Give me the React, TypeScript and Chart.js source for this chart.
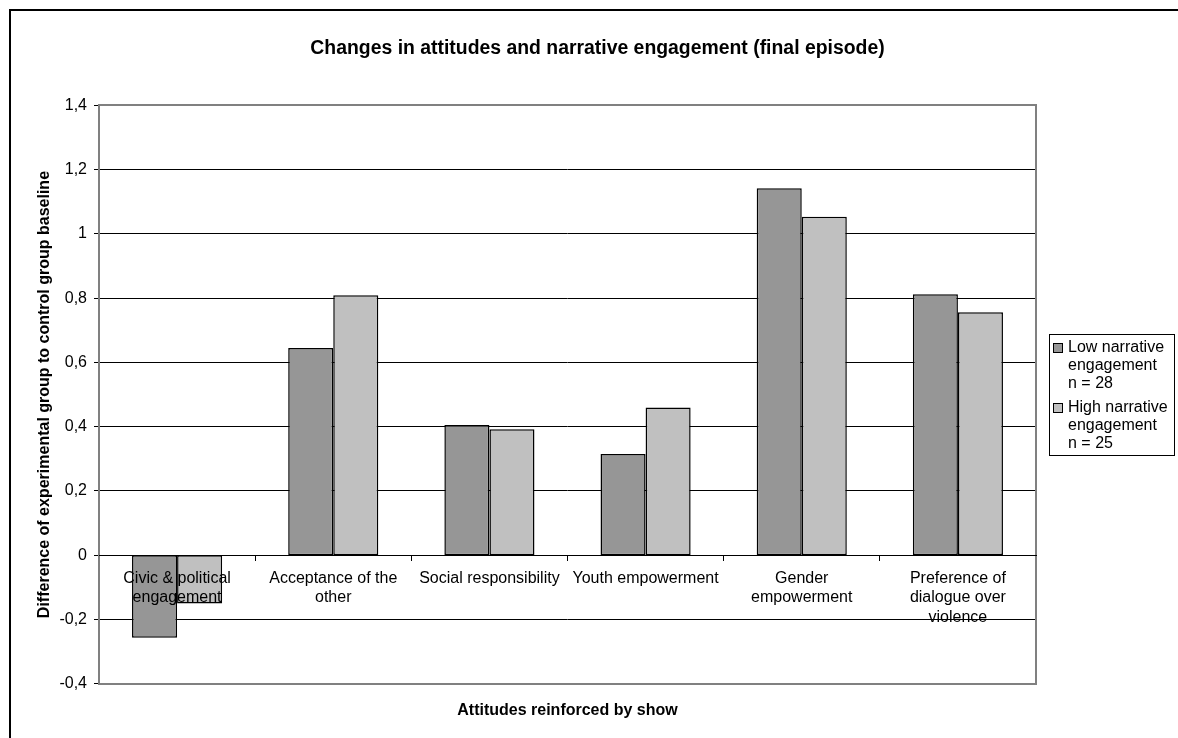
import React, { useEffect, useRef } from "react";
import { Chart, registerables } from "chart.js";

Chart.register(...registerables);

// Category labels (multi-line where the axis wraps them)
const categories: (string | string[])[] = [
  ["Civic & political", "engagement"],
  ["Acceptance of the", "other"],
  "Social responsibility",
  "Youth empowerment",
  ["Gender", "empowerment"],
  ["Preference of", "dialogue over", "violence"],
];

// Difference of experimental group to control group baseline
const lowEngagement = [-0.257, 0.645, 0.405, 0.315, 1.142, 0.812];
const highEngagement = [-0.15, 0.809, 0.392, 0.46, 1.053, 0.756];

const lowLegend = ["Low narrative", "engagement", "n = 28"];
const highLegend = ["High narrative", "engagement", "n = 25"];

const yMin = -0.4;
const yMax = 1.4;
const yStep = 0.2;

const chartTitle = "Changes in attitudes and narrative engagement (final episode)";
const xTitle = "Attitudes reinforced by show";
const yTitle = "Difference of experimental group to control group baseline";

const FONT = "'Liberation Sans', Arial, Helvetica, sans-serif";
const DARK = "#969696";
const LIGHT = "#C0C0C0";

const legendLines = [lowLegend, highLegend];

// Grey frame around the plot area
const plotFrame = {
  id: "plotFrame",
  beforeDatasetsDraw(chart: any) {
    const { ctx, chartArea } = chart;
    const l = Math.round(chartArea.left);
    const r = Math.round(chartArea.right);
    const t = Math.round(chartArea.top);
    const b = Math.round(chartArea.bottom);
    ctx.save();
    ctx.strokeStyle = "#808080";
    ctx.lineWidth = 2;
    ctx.strokeRect(l, t, r - l, b - t);
    ctx.restore();
  },
};

// Boxed legend on the right with wrapped series names
const boxLegend = {
  id: "boxLegend",
  afterDraw(chart: any) {
    const { ctx, chartArea } = chart;
    const w = 125;
    const h = 121;
    const x = Math.round(chartArea.right + 13);
    const y = Math.round((chartArea.top + chartArea.bottom) / 2 - h / 2);
    ctx.save();
    ctx.fillStyle = "#fff";
    ctx.fillRect(x, y, w, h);
    ctx.strokeStyle = "#000";
    ctx.lineWidth = 1;
    ctx.strokeRect(x + 0.5, y + 0.5, w, h);
    ctx.font = `16px ${FONT}`;
    ctx.textBaseline = "middle";
    ctx.textAlign = "left";
    let ly = y + 14;
    chart.data.datasets.forEach((ds: any, i: number) => {
      ctx.fillStyle = ds.backgroundColor;
      ctx.fillRect(x + 4, ly - 5, 10, 10);
      ctx.strokeStyle = "#000";
      ctx.strokeRect(x + 4.5, ly - 4.5, 9, 9);
      ctx.fillStyle = "#000";
      legendLines[i].forEach((t, j) => ctx.fillText(t, x + 19, ly + j * 17.8));
      ly += 60;
    });
    ctx.restore();
  },
};

export default function App() {
  const canvasRef = useRef<HTMLCanvasElement | null>(null);

  useEffect(() => {
    const canvas = canvasRef.current;
    if (!canvas) return;
    Chart.defaults.font.family = FONT;
    Chart.defaults.color = "#000";

    const chart = new Chart(canvas, {
      type: "bar",
      data: {
        labels: categories as any,
        datasets: [
          {
            label: lowLegend.join(" "),
            data: lowEngagement,
            backgroundColor: DARK,
            borderColor: "#000",
            borderWidth: 1.5,
            borderSkipped: false,
          },
          {
            label: highLegend.join(" "),
            data: highEngagement,
            backgroundColor: LIGHT,
            borderColor: "#000",
            borderWidth: 1.5,
            borderSkipped: false,
          },
        ],
      },
      options: {
        responsive: false,
        animation: false,
        devicePixelRatio: 1,
        layout: { padding: { left: 6, top: 0, right: 0, bottom: 0 } },
        datasets: {
          bar: { categoryPercentage: 0.577, barPercentage: 1 },
        },
        plugins: {
          legend: { display: false },
          tooltip: { enabled: false },
          title: {
            display: true,
            text: chartTitle,
            color: "#000",
            font: { family: FONT, size: 19.4, weight: "bold" },
            padding: { top: 26, bottom: 45 },
          },
          subtitle: {
            display: true,
            position: "bottom",
            fullSize: false,
            text: xTitle,
            color: "#000",
            font: { family: FONT, size: 16, weight: "bold" },
            padding: { top: 17, bottom: 18 },
          },
        },
        scales: {
          x: {
            type: "category",
            position: { y: 0 } as any,
            offset: true,
            grid: {
              offset: true,
              drawOnChartArea: false,
              drawTicks: true,
              tickLength: 5,
              tickColor: "#000",
              color: "#000",
            },
            border: { display: true, color: "#000", width: 1, z: 1 },
            ticks: {
              z: 1,
              color: "#000",
              font: { family: FONT, size: 16 },
              maxRotation: 0,
              minRotation: 0,
              autoSkip: false,
              padding: 9,
            },
          },
          y: {
            min: yMin,
            max: yMax,
            afterFit(scale: any) {
              scale.width = 82;
            },
            grid: {
              color: "#000",
              lineWidth: 1,
              drawTicks: true,
              tickLength: 5,
              tickColor: "#000",
            },
            border: { display: false },
            ticks: {
              stepSize: yStep,
              color: "#000",
              font: { family: FONT, size: 16 },
              padding: 7,
              callback: (v: any) => String(Math.round(Number(v) * 10) / 10).replace(".", ","),
            },
            title: {
              display: true,
              text: yTitle,
              color: "#000",
              font: { family: FONT, size: 16, weight: "bold" },
              padding: { top: 18, bottom: 4 },
            },
          },
          // empty right-hand axis that reserves room for the legend box
          legendSpace: {
            type: "linear",
            position: "right",
            display: true,
            afterFit(scale: any) {
              scale.width = 142;
            },
            grid: { display: false, drawTicks: false },
            border: { display: false },
            ticks: { display: false },
          },
        },
      },
      plugins: [plotFrame, boxLegend],
    });

    return () => chart.destroy();
  }, []);

  return (
    <div
      style={{
        position: "absolute",
        left: 9,
        top: 9,
        width: 1169,
        height: 729,
        boxSizing: "border-box",
        borderLeft: "2px solid #000",
        borderTop: "2px solid #000",
        background: "#fff",
        overflow: "hidden",
      }}
    >
      <canvas ref={canvasRef} width={1167} height={727} style={{ display: "block" }} />
    </div>
  );
}
